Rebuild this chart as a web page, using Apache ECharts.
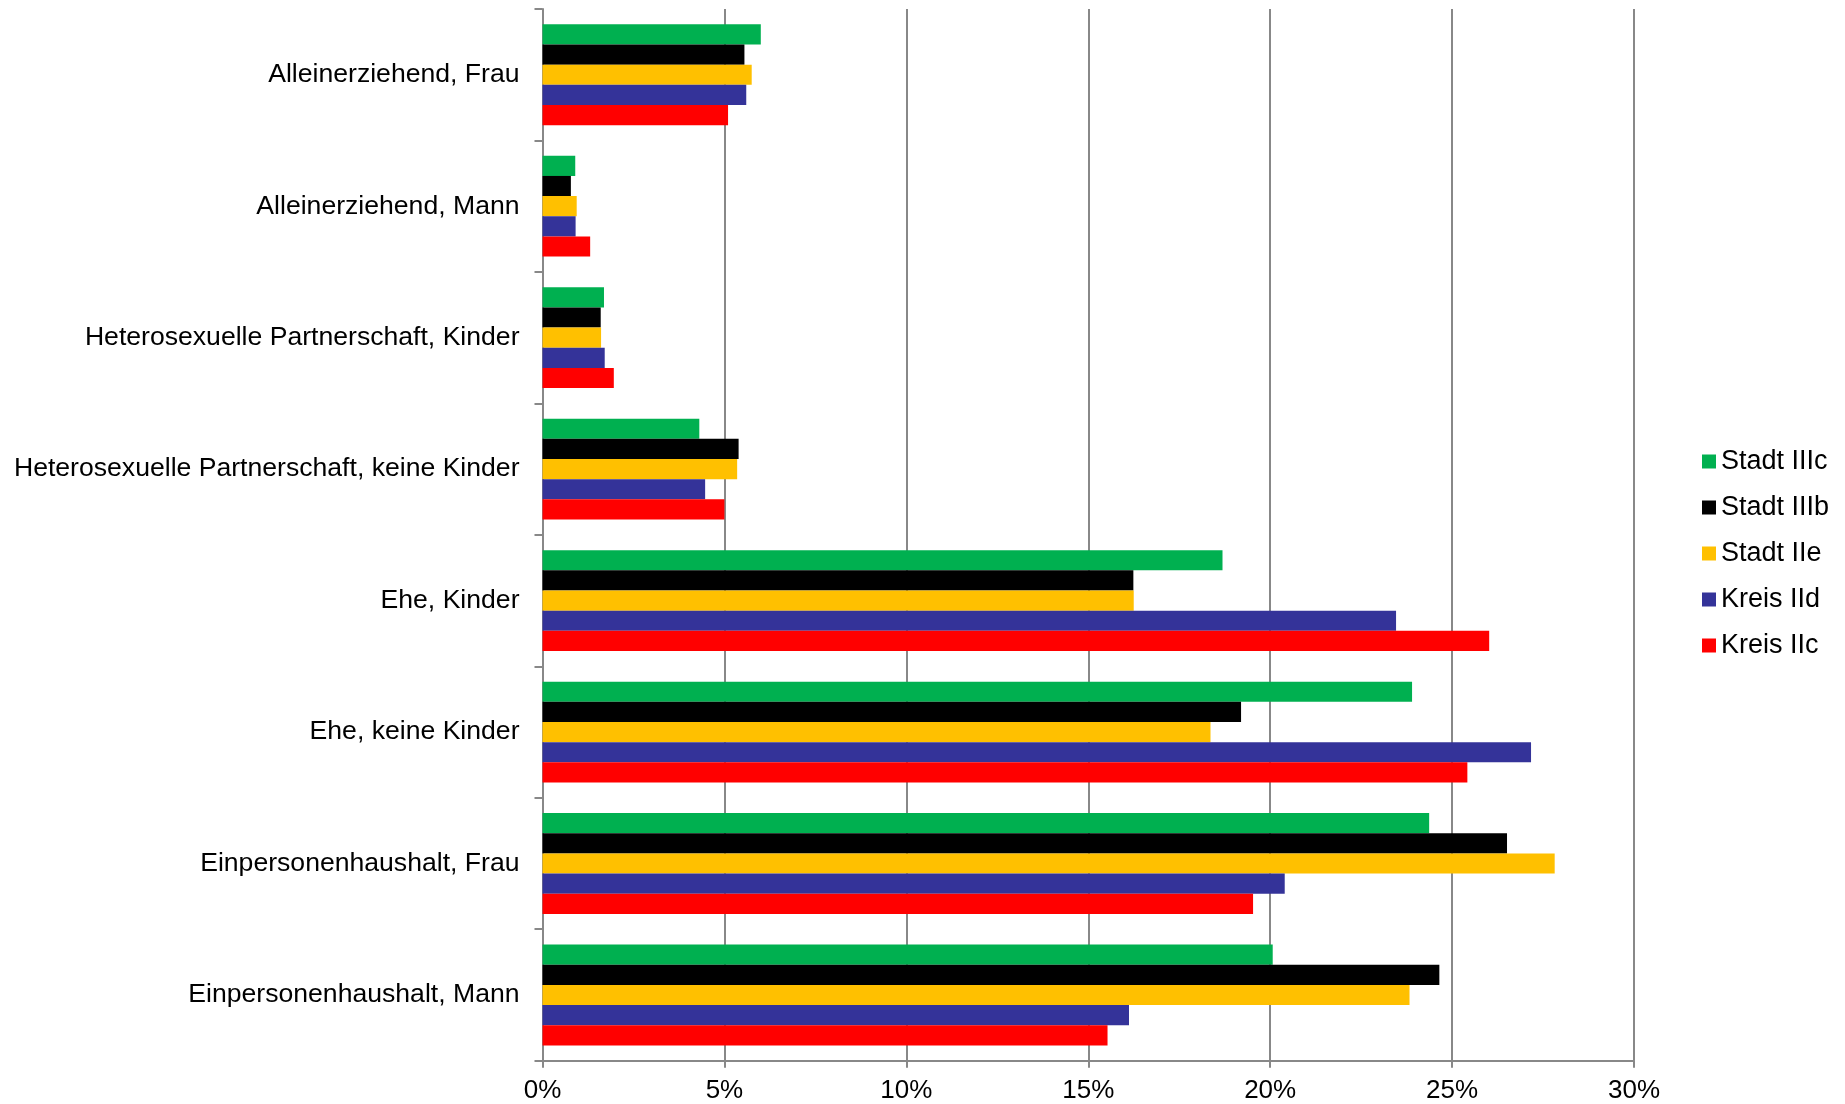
<!DOCTYPE html>
<html>
<head>
<meta charset="utf-8">
<title>Haushaltsformen</title>
<script src="https://cdn.jsdelivr.net/npm/echarts@6/dist/echarts.min.js"></script>
<style>
  html, body { margin: 0; padding: 0; background: #ffffff; }
  #chart { width: 1845px; height: 1104px; }
</style>
</head>
<body>
<div id="chart"></div>
<script>
// Household types, listed top to bottom
const categories = [
  'Alleinerziehend, Frau',
  'Alleinerziehend, Mann',
  'Heterosexuelle Partnerschaft, Kinder',
  'Heterosexuelle Partnerschaft, keine Kinder',
  'Ehe, Kinder',
  'Ehe, keine Kinder',
  'Einpersonenhaushalt, Frau',
  'Einpersonenhaushalt, Mann'
];

// Share of households in percent, one array per region
const stadtIIIc = [6.0, 0.9, 1.69, 4.31, 18.69, 23.9, 24.37, 20.07];
const stadtIIIb = [5.55, 0.78, 1.6, 5.39, 16.24, 19.2, 26.51, 24.65];
const stadtIIe  = [5.75, 0.94, 1.61, 5.35, 16.25, 18.36, 27.82, 23.83];
const kreisIId  = [5.6, 0.91, 1.71, 4.47, 23.46, 27.17, 20.4, 16.12];
const kreisIIc  = [5.1, 1.31, 1.96, 5.0, 26.02, 25.42, 19.53, 15.53];

const seriesNames = ['Stadt IIIc', 'Stadt IIIb', 'Stadt IIe', 'Kreis IId', 'Kreis IIc'];
const seriesData = [stadtIIIc, stadtIIIb, stadtIIe, kreisIId, kreisIIc];
const seriesColors = ['#00B050', '#000000', '#FFC000', '#343399', '#FF0000'];

const FONT = '"Liberation Sans", Arial, sans-serif';
const GRID_GREY = '#888888';

const chart = echarts.init(document.getElementById('chart'), null, { renderer: 'canvas' });

chart.setOption({
  animation: false,
  backgroundColor: '#ffffff',
  textStyle: { fontFamily: FONT },
  grid: { left: 542.5, right: 211, top: 9, bottom: 43.3, containLabel: false },
  legend: {
    orient: 'vertical',
    left: 1697,
    top: 443,
    itemWidth: 14,
    itemHeight: 14,
    itemGap: 19,
    icon: 'rect',
    data: seriesNames,
    textStyle: { fontFamily: FONT, fontSize: 27, color: '#000000' }
  },
  xAxis: {
    type: 'value',
    min: 0,
    max: 30,
    interval: 5,
    axisLine: { show: true, lineStyle: { color: GRID_GREY, width: 2 } },
    axisTick: { show: true, length: 7, lineStyle: { color: GRID_GREY, width: 2 } },
    splitLine: { show: true, lineStyle: { color: GRID_GREY, width: 2 } },
    axisLabel: {
      formatter: '{value}%',
      fontFamily: FONT,
      fontSize: 26,
      color: '#000000',
      margin: 17
    }
  },
  yAxis: {
    type: 'category',
    inverse: true,
    data: categories,
    axisLine: { show: true, lineStyle: { color: GRID_GREY, width: 2 } },
    axisTick: { show: true, length: 8, lineStyle: { color: GRID_GREY, width: 2 } },
    axisLabel: {
      fontFamily: FONT,
      fontSize: 26.6,
      color: '#000000',
      margin: 23,
      padding: [9, 0, 0, 0]
    }
  },
  series: seriesNames.map((name, i) => ({
    name: name,
    type: 'bar',
    data: seriesData[i],
    barGap: '0%',
    barCategoryGap: '23.3%',
    itemStyle: { color: seriesColors[i] }
  }))
});
</script>
</body>
</html>
